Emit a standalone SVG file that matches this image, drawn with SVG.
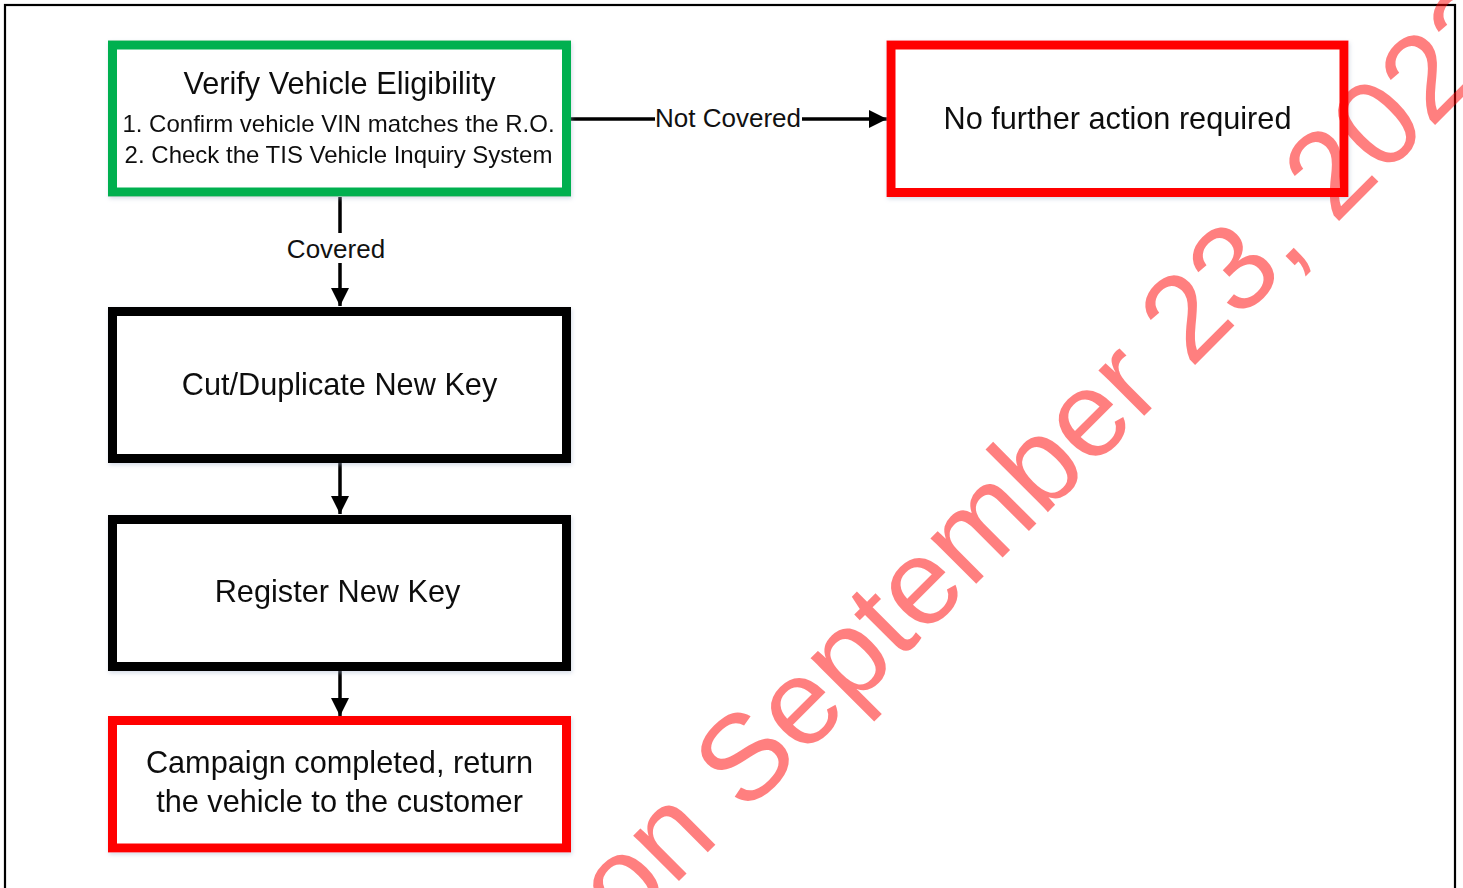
<svg xmlns="http://www.w3.org/2000/svg" width="1463" height="888" viewBox="0 0 1463 888">
<defs>
<style>
.t{font-family:"Liberation Sans",Arial,sans-serif;fill:#111;text-anchor:middle}
.big{font-size:30.7px}
.sm{font-size:24px}
.lbl{font-size:26px}
.conn{stroke:#000;stroke-width:3.5;fill:none}
.box{fill:#fff;stroke-width:9}
</style>
<filter id="sh" x="-5%" y="-10%" width="110%" height="125%">
<feDropShadow dx="1" dy="2" stdDeviation="2" flood-color="#9fb0cc" flood-opacity="0.45"/>
</filter>
<marker id="ah" markerUnits="userSpaceOnUse" markerWidth="20" markerHeight="20" viewBox="0 0 20 20" refX="18" refY="10" orient="auto">
<path d="M0,1 L18,10 L0,19 Z" fill="#000"/>
</marker>
</defs>
<rect width="1463" height="888" fill="#fff"/>
<rect x="5" y="5" width="1450" height="900" fill="none" stroke="#000" stroke-width="2.2"/>

<g id="connectors">
<line class="conn" x1="340" y1="197" x2="340" y2="233"/>
<text class="t lbl" x="336" y="258">Covered</text>
<line class="conn" x1="340" y1="263" x2="340" y2="306" marker-end="url(#ah)"/>
<line class="conn" x1="570" y1="119" x2="655" y2="119"/>
<text class="t lbl" x="728" y="127">Not Covered</text>
<line class="conn" x1="802" y1="119" x2="887" y2="119" marker-end="url(#ah)"/>
<line class="conn" x1="340" y1="463" x2="340" y2="514" marker-end="url(#ah)"/>
<line class="conn" x1="340" y1="671" x2="340" y2="716" marker-end="url(#ah)"/>
</g>

<g id="verify" filter="url(#sh)">
<rect class="box" x="112.5" y="45" width="454" height="147" stroke="#00b050"/>
<text class="t big" x="339.5" y="94">Verify Vehicle Eligibility</text>
<text class="t sm" x="338.5" y="132">1. Confirm vehicle VIN matches the R.O.</text>
<text class="t sm" x="338.5" y="163">2. Check the TIS Vehicle Inquiry System</text>
</g>

<g id="no-action" filter="url(#sh)">
<rect class="box" x="891" y="45" width="453" height="147.5" stroke="#ff0000"/>
<text class="t big" x="1117.5" y="129">No further action required</text>
</g>

<g id="cut-key" filter="url(#sh)">
<rect class="box" x="112.5" y="311.5" width="454" height="147" stroke="#000"/>
<text class="t big" x="339.5" y="395">Cut/Duplicate New Key</text>
</g>

<g id="register-key" filter="url(#sh)">
<rect class="box" x="112.5" y="519.5" width="454" height="147" stroke="#000"/>
<text class="t big" x="337.5" y="602">Register New Key</text>
</g>

<g id="complete" filter="url(#sh)">
<rect class="box" x="112.5" y="720.5" width="454" height="127.5" stroke="#ff0000"/>
<text class="t big" x="339.5" y="773">Campaign completed, return</text>
<text class="t big" x="339.5" y="812">the vehicle to the customer</text>
</g>

<text font-family="Liberation Sans, Arial, sans-serif" font-size="122" fill="#ff0000" fill-opacity="0.5" x="625" y="935" transform="rotate(-45 625 935)">on September 23, 2022</text>
</svg>
